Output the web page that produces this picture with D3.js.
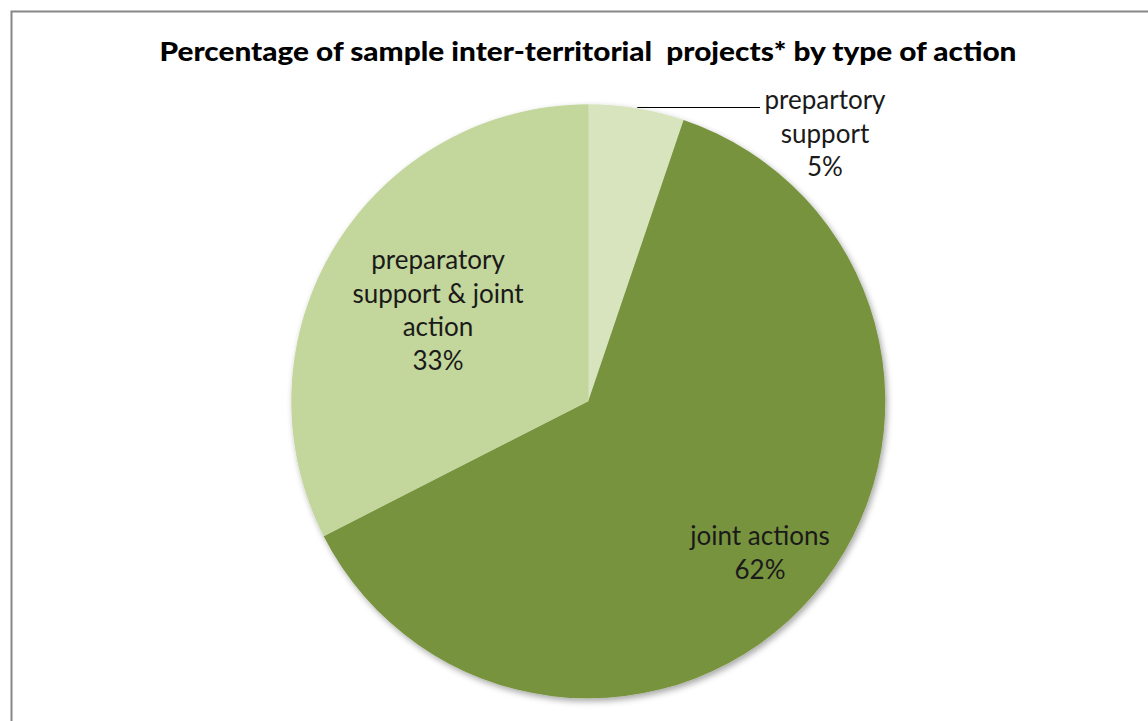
<!DOCTYPE html>
<html>
<head>
<meta charset="utf-8">
<script src="https://cdnjs.cloudflare.com/ajax/libs/d3/7.8.5/d3.min.js"></script>
<style>
  html, body { margin: 0; padding: 0; background: #fff; }
  svg { display: block; }
  text { font-family: Lato, "Open Sans", "Liberation Sans", sans-serif; }
</style>
</head>
<body>
<svg id="chart" width="1148" height="721"></svg>
<script>
// ---- data ----
const categories = ["prepartory support", "joint actions", "preparatory support & joint action"];
const values = [5.2, 62.3, 32.5];
const percentLabels = ["5%", "62%", "33%"];
const labelLines = [
  ["prepartory", "support", "5%"],
  ["joint actions", "62%"],
  ["preparatory", "support & joint", "action", "33%"]
];
const colors = ["#d7e4bd", "#77933c", "#c3d69b"];
const title = "Percentage of sample inter-territorial  projects* by type of action";

// ---- layout ----
const W = 1148, H = 721;
const cx = 588.3, cy = 401.3, R = 297;

const svg = d3.select("#chart");

// frame
svg.append("rect")
  .attr("x", 11.5).attr("y", 11.5)
  .attr("width", W + 20).attr("height", H + 20)
  .attr("fill", "#fff")
  .attr("stroke", "#868686").attr("stroke-width", 2);

// shadow filter
const defs = svg.append("defs");
const f = defs.append("filter").attr("id", "shadow")
  .attr("x", "-10%").attr("y", "-10%").attr("width", "120%").attr("height", "120%");
f.append("feDropShadow")
  .attr("dx", 2).attr("dy", 3).attr("stdDeviation", 3)
  .attr("flood-color", "#000").attr("flood-opacity", 0.35);

// title
svg.append("text")
  .attr("x", 588).attr("y", 61)
  .attr("text-anchor", "middle")
  .attr("font-weight", "900")
  .attr("font-size", 26)
  .attr("fill", "#000")
  .attr("textLength", 857)
  .attr("lengthAdjust", "spacingAndGlyphs")
  .style("white-space", "pre")
  .text(title);

const data = categories.map((c, i) => ({ name: c, value: values[i], color: colors[i], lines: labelLines[i] }));

const pie = d3.pie().value(d => d.value).sort(null).startAngle(0).endAngle(2 * Math.PI);
const arc = d3.arc().innerRadius(0).outerRadius(R);
const arcs = pie(data);

const g = svg.append("g").attr("transform", `translate(${cx},${cy})`);
g.append("g").attr("filter", "url(#shadow)")
  .selectAll("path")
  .data(arcs)
  .join("path")
  .attr("d", arc)
  .attr("fill", d => d.data.color);

// label positions
const labelPos = [
  { x: 825, y: 109 },
  { x: 760, y: 545 },
  { x: 438, y: 269 }
];
const lineH = 33.5;

arcs.forEach((a, i) => {
  const t = svg.append("text")
    .attr("text-anchor", "middle")
    .attr("font-size", 26)
    .attr("fill", "#1a1a1a");
  a.data.lines.forEach((ln, j) => {
    t.append("tspan")
      .attr("x", labelPos[i].x)
      .attr("y", labelPos[i].y + j * lineH)
      .text(ln);
  });
});

// leader line for small slice
svg.append("line")
  .attr("x1", cx + 49).attr("y1", 107.5)
  .attr("x2", 760).attr("y2", 107.5)
  .attr("stroke", "#000").attr("stroke-width", 1.2);
</script>
</body>
</html>
